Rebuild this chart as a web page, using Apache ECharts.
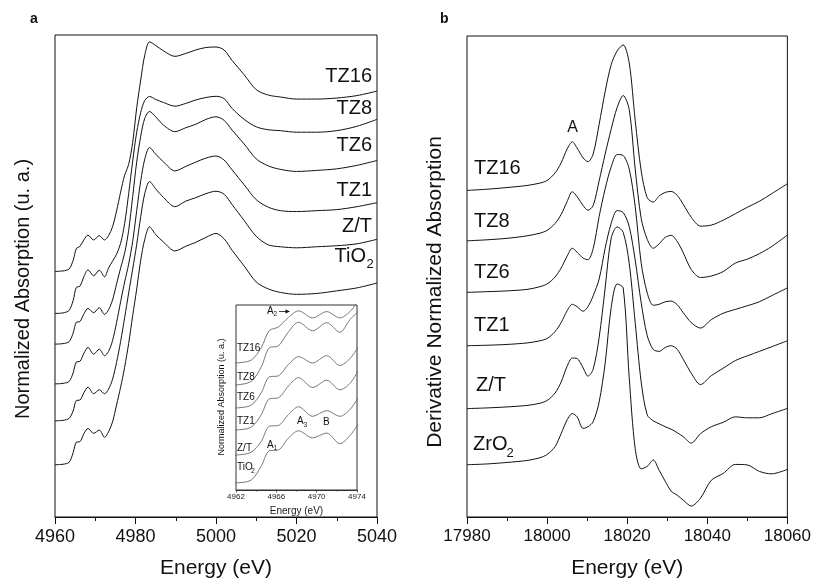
<!DOCTYPE html>
<html>
<head>
<meta charset="utf-8">
<script src="https://cdn.jsdelivr.net/npm/echarts@6/dist/echarts.min.js"></script>
<style>
  html, body { margin: 0; padding: 0; background: #fff; }
  #chart { width: 814px; height: 584px; }
</style>
</head>
<body>
<div id="chart"></div>
<script>
// ---------- Ti K-edge XANES (panel a) ----------
const energyTi = [4960, 4962, 4963.5, 4964.5, 4965.3, 4966.2, 4967.2, 4968.2, 4969.6, 4971, 4972.3,
  4973.3, 4974.3, 4975.3, 4976.3, 4977.3, 4978.3, 4979.3, 4980.3, 4981.3, 4982.3, 4983.5, 4985, 4987,
  4989.8, 4992.5, 4995, 4997.5, 5000, 5002, 5004, 5007, 5010, 5013, 5016, 5020, 5025, 5030, 5035, 5040];

// normalized absorption of each sample (pre-edge baseline = 0)
const tiTZ16 = [0, 0.003, 0.014, 0.063, 0.131, 0.145, 0.183, 0.209, 0.181, 0.206, 0.181,
  0.206, 0.257, 0.349, 0.457, 0.554, 0.617, 0.743, 0.943, 1.103, 1.246, 1.323, 1.302, 1.270,
  1.239, 1.256, 1.276, 1.290, 1.293, 1.276, 1.215, 1.133, 1.047, 1.016, 1.005, 0.993, 0.993, 0.999, 1.013, 1.039];
const tiTZ8 = [0, 0.003, 0.017, 0.074, 0.150, 0.157, 0.213, 0.251, 0.217, 0.249, 0.211,
  0.261, 0.301, 0.341, 0.404, 0.518, 0.690, 0.878, 1.044, 1.158, 1.227, 1.250, 1.233, 1.215,
  1.194, 1.210, 1.230, 1.244, 1.251, 1.238, 1.181, 1.118, 1.075, 1.058, 1.053, 1.044, 1.044, 1.053, 1.078, 1.118];
const tiTZ6 = [0, 0.003, 0.014, 0.063, 0.126, 0.130, 0.175, 0.206, 0.181, 0.210, 0.171,
  0.198, 0.255, 0.347, 0.438, 0.524, 0.655, 0.850, 1.050, 1.198, 1.301, 1.341, 1.310, 1.261,
  1.224, 1.247, 1.267, 1.295, 1.310, 1.290, 1.233, 1.153, 1.067, 1.027, 1.007, 0.995, 1.001, 1.010, 1.030, 1.058];
const tiTZ1 = [0, 0.003, 0.014, 0.063, 0.126, 0.130, 0.177, 0.210, 0.171, 0.200, 0.162,
  0.187, 0.250, 0.353, 0.473, 0.587, 0.690, 0.821, 0.998, 1.170, 1.295, 1.362, 1.324, 1.278,
  1.227, 1.253, 1.278, 1.301, 1.313, 1.290, 1.233, 1.147, 1.061, 1.018, 0.998, 0.993, 0.998, 1.004, 1.021, 1.044];
const tiZT = [0, 0.003, 0.014, 0.057, 0.117, 0.120, 0.163, 0.194, 0.156, 0.179, 0.156,
  0.183, 0.240, 0.337, 0.457, 0.594, 0.737, 0.874, 1.017, 1.177, 1.309, 1.379, 1.337, 1.286,
  1.234, 1.266, 1.286, 1.309, 1.323, 1.306, 1.246, 1.154, 1.063, 1.014, 1.003, 0.997, 1.003, 1.009, 1.020, 1.046];
const tiTiO2 = [0, 0.003, 0.014, 0.069, 0.130, 0.133, 0.180, 0.209, 0.181, 0.200, 0.158,
  0.190, 0.247, 0.345, 0.447, 0.562, 0.699, 0.859, 1.013, 1.179, 1.299, 1.371, 1.327, 1.282,
  1.232, 1.259, 1.282, 1.310, 1.333, 1.302, 1.236, 1.145, 1.053, 1.013, 0.993, 0.982, 0.987, 1.002, 1.019, 1.047];

// vertical shift of each spectrum in the main plot and in the pre-edge inset
const tiSamples = ['TZ16', 'TZ8', 'TZ6', 'TZ1', 'Z/T', 'TiO2'];
const tiSpectra = [tiTZ16, tiTZ8, tiTZ6, tiTZ1, tiZT, tiTiO2];
const tiOffsets = [1.415, 1.173, 0.996, 0.767, 0.554, 0.301];
const insetOffsets = [0.499, 0.412, 0.321, 0.234, 0.135, 0.025];

// ---------- Zr K-edge XANES (panel b) ----------
const energyZr = [17980, 17985, 17990, 17995, 17998, 18000, 18002, 18003.5, 18005, 18006.3, 18007.5,
  18009, 18010.2, 18011.5, 18013, 18014.5, 18016, 18017.5, 18019, 18020.5, 18022, 18023.5, 18025,
  18026.5, 18028, 18029.5, 18031, 18032.5, 18034, 18036, 18038.3, 18041, 18044, 18047, 18050, 18053, 18056, 18060];

const zrTZ16 = [0, 0.012, 0.029, 0.05, 0.072, 0.10, 0.177, 0.277, 0.417, 0.49, 0.427, 0.327, 0.29,
  0.367, 0.667, 0.997, 1.267, 1.407, 1.467, 1.287, 0.707, 0.197, -0.073, -0.118, -0.055, -0.02, -0.01,
  -0.05, -0.14, -0.27, -0.36, -0.35, -0.30, -0.235, -0.17, -0.11, -0.035, 0.067];
const zrTZ8 = [0, 0.01, 0.025, 0.05, 0.075, 0.105, 0.175, 0.265, 0.395, 0.495, 0.445, 0.355, 0.308,
  0.355, 0.605, 0.875, 1.125, 1.345, 1.465, 1.325, 0.725, 0.225, 0.015, -0.075, -0.03, 0.035, 0.055,
  -0.008, -0.12, -0.29, -0.37, -0.355, -0.31, -0.225, -0.185, -0.13, -0.06, 0.058];
const zrTZ6 = [0, 0.007, 0.015, 0.03, 0.055, 0.085, 0.155, 0.245, 0.365, 0.445, 0.405, 0.345, 0.33,
  0.44, 0.765, 1.045, 1.265, 1.39, 1.38, 1.245, 0.865, 0.295, -0.005, -0.13, -0.12, -0.095, -0.088,
  -0.125, -0.205, -0.305, -0.36, -0.275, -0.21, -0.172, -0.135, -0.095, -0.035, 0.045];
const zrTZ1 = [0, 0.005, 0.013, 0.028, 0.048, 0.073, 0.143, 0.233, 0.353, 0.418, 0.393, 0.348, 0.393,
  0.503, 0.673, 0.983, 1.233, 1.363, 1.343, 1.203, 0.863, 0.433, 0.103, -0.037, -0.057, -0.017, 0,
  -0.037, -0.137, -0.277, -0.392, -0.302, -0.227, -0.15, -0.102, -0.057, -0.012, 0.05];
const zrZT = [0, 0.007, 0.017, 0.032, 0.052, 0.082, 0.157, 0.267, 0.427, 0.51, 0.505, 0.41, 0.327,
  0.397, 0.717, 1.217, 1.717, 1.832, 1.777, 1.467, 0.867, 0.267, -0.063, -0.123, -0.153, -0.183, -0.208,
  -0.243, -0.283, -0.348, -0.253, -0.183, -0.138, -0.083, -0.093, -0.093, -0.053, 0.002];
const zrZrO2 = [0, 0.008, 0.023, 0.043, 0.068, 0.103, 0.183, 0.313, 0.453, 0.516, 0.483, 0.366, 0.383,
  0.433, 0.633, 1.023, 1.583, 1.823, 1.783, 0.883, 0.163, -0.042, -0.017, 0.048, -0.057, -0.167, -0.267,
  -0.307, -0.357, -0.417, -0.337, -0.157, -0.087, 0.003, -0.002, -0.067, -0.092, -0.047];

const zrSamples = ['TZ16', 'TZ8', 'TZ6', 'TZ1', 'Z/T', 'ZrO2'];
const zrSpectra = [zrTZ16, zrTZ8, zrTZ6, zrTZ1, zrZT, zrZrO2];
const zrOffsets = [3.293, 2.785, 2.265, 1.727, 1.093, 0.527];

// axis ticks
const tiTicks = { min: 4960, max: 5040, step: 20 };
const zrTicks = { min: 17980, max: 18060, step: 20 };
const insetTicks = { min: 4962, max: 4974, step: 4 };

// ---------- drawing ----------
const FONT = '"Liberation Sans", Arial, Helvetica, sans-serif';
const INK = '#111';
const plain = v => String(v);

function shifted(energy, values, offset, lo, hi) {
  const out = [];
  energy.forEach((e, i) => {
    if (e >= lo && e <= hi) out.push([e, +(values[i] + offset).toFixed(4)]);
  });
  return out;
}

function bottomAxis(gridIndex, t, fontSize) {
  return {
    type: 'value', gridIndex, min: t.min, max: t.max, interval: t.step,
    axisLine: { show: true, onZero: false, lineStyle: { color: INK, width: 1 } },
    axisTick: { show: true, inside: false, length: 7, lineStyle: { color: INK, width: 1 } },
    minorTick: { show: true, splitNumber: 2, length: 4, lineStyle: { color: INK, width: 1 } },
    axisLabel: { fontSize, color: INK, fontFamily: FONT, margin: 11, formatter: plain },
    splitLine: { show: false },
    name: 'Energy (eV)', nameLocation: 'middle', nameGap: 41,
    nameTextStyle: { fontSize: 21, color: INK, fontFamily: FONT }
  };
}

function hiddenY(gridIndex, max) {
  return {
    type: 'value', gridIndex, min: 0, max,
    axisLine: { show: false }, axisTick: { show: false },
    axisLabel: { show: false }, splitLine: { show: false }
  };
}

const series = [];
tiSpectra.forEach((vals, k) => {
  series.push({
    name: 'Ti ' + tiSamples[k], type: 'line', xAxisIndex: 0, yAxisIndex: 0,
    data: shifted(energyTi, vals, tiOffsets[k], 4960, 5040),
    showSymbol: false, smooth: 0.3, clip: true,
    lineStyle: { color: INK, width: 1 }, silent: true
  });
});
zrSpectra.forEach((vals, k) => {
  series.push({
    name: 'Zr ' + zrSamples[k], type: 'line', xAxisIndex: 1, yAxisIndex: 1,
    data: shifted(energyZr, vals, zrOffsets[k], 17980, 18060),
    showSymbol: false, smooth: 0.3, clip: true,
    lineStyle: { color: INK, width: 1 }, silent: true
  });
});
tiSpectra.forEach((vals, k) => {
  series.push({
    name: 'inset ' + tiSamples[k], type: 'line', xAxisIndex: 2, yAxisIndex: 2,
    data: shifted(energyTi, vals, insetOffsets[k], 4960, 4974.3),
    showSymbol: false, smooth: 0.3, clip: true,
    lineStyle: { color: '#6a6a6a', width: 0.9 }, silent: true
  });
});

function txt(text, x, y, size, align, opts) {
  return Object.assign({
    type: 'text', x, y, silent: true, z: 100,
    style: {
      text, fill: INK, textAlign: align || 'left', textVerticalAlign: 'middle',
      font: (opts && opts.bold ? 'bold ' : '') + size + 'px ' + FONT
    }
  }, opts && opts.rotation ? { rotation: opts.rotation } : {});
}

const graphic = [
  txt('a', 30, 19, 14, 'left', { bold: true }),
  txt('b', 440, 19, 14, 'left', { bold: true }),
  // axis titles
  txt('Normalized Absorption (u. a.)', 23, 289, 20, 'center', { rotation: Math.PI / 2 }),
  txt('Derivative Normalized Absorption', 435, 292, 21, 'center', { rotation: Math.PI / 2 }),
  txt('Normalized Absorption (u. a.)', 222, 397, 9, 'center', { rotation: Math.PI / 2 }),
  // panel a sample names
  txt('TZ16', 372, 76, 20, 'right'),
  txt('TZ8', 372, 108, 20, 'right'),
  txt('TZ6', 372, 145, 20, 'right'),
  txt('TZ1', 372, 190, 20, 'right'),
  txt('Z/T', 372, 226, 20, 'right'),
  txt('TiO', 366, 256, 20, 'right'),
  txt('2', 366.5, 264, 13, 'left'),
  // panel b sample names
  txt('TZ16', 474, 168, 20, 'left'),
  txt('TZ8', 474, 221, 20, 'left'),
  txt('TZ6', 474, 272, 20, 'left'),
  txt('TZ1', 474, 325, 20, 'left'),
  txt('Z/T', 476, 385, 20, 'left'),
  txt('ZrO', 473, 444, 20, 'left'),
  txt('2', 506.5, 453, 13, 'left'),
  txt('A', 572.5, 128, 16, 'center'),
  // inset sample names and features
  txt('TZ16', 237, 348, 10, 'left'),
  txt('TZ8', 237, 377, 10, 'left'),
  txt('TZ6', 237, 397, 10, 'left'),
  txt('TZ1', 237, 421, 10, 'left'),
  txt('Z/T', 237, 448, 10, 'left'),
  txt('TiO', 237, 467, 10, 'left'),
  txt('2', 251, 471, 7, 'left'),
  txt('A', 267, 311.5, 10, 'left'),
  txt('2', 273.5, 314.5, 6.5, 'left'),
  txt('A', 267, 445, 10, 'left'),
  txt('1', 273.5, 448.5, 6.5, 'left'),
  txt('A', 297, 421.5, 10, 'left'),
  txt('3', 303.5, 425, 6.5, 'left'),
  txt('B', 323, 422.5, 10, 'left'),
  { type: 'line', silent: true, z: 100, shape: { x1: 279, y1: 311.5, x2: 286, y2: 311.5 },
    style: { stroke: INK, lineWidth: 0.8 } },
  { type: 'polygon', silent: true, z: 100, shape: { points: [[290, 311.5], [285.5, 309.5], [285.5, 313.5]] },
    style: { fill: INK } }
];

const chart = echarts.init(document.getElementById('chart'), null, { renderer: 'canvas' });
chart.setOption({
  animation: false,
  backgroundColor: '#fff',
  textStyle: { fontFamily: FONT },
  grid: [
    { left: 55, top: 35, width: 322, height: 486, show: true, borderColor: INK, borderWidth: 1, backgroundColor: 'transparent' },
    { left: 467, top: 36, width: 322, height: 485, show: true, borderColor: INK, borderWidth: 1, backgroundColor: 'transparent' },
    { left: 236, top: 305, width: 121, height: 185, show: true, borderColor: '#333', borderWidth: 1, backgroundColor: '#fff', z: 3 }
  ],
  xAxis: [
    bottomAxis(0, tiTicks, 18),
    bottomAxis(1, zrTicks, 17),
    {
      type: 'value', gridIndex: 2, min: insetTicks.min, max: insetTicks.max, interval: insetTicks.step,
      axisLine: { show: true, onZero: false, lineStyle: { color: '#333', width: 1 } },
      axisTick: { show: true, inside: false, length: 2.5, lineStyle: { color: '#333', width: 0.8 } },
      minorTick: { show: true, splitNumber: 2, length: 1.5, lineStyle: { color: '#333', width: 0.8 } },
      axisLabel: { fontSize: 8, color: '#222', fontFamily: FONT, margin: 3, formatter: plain },
      splitLine: { show: false },
      name: 'Energy (eV)', nameLocation: 'middle', nameGap: 16,
      nameTextStyle: { fontSize: 10, color: '#222', fontFamily: FONT }
    }
  ],
  yAxis: [hiddenY(0, 486 / 175), hiddenY(1, 4.85), hiddenY(2, 0.731)],
  series,
  graphic
});
</script>
</body>
</html>
